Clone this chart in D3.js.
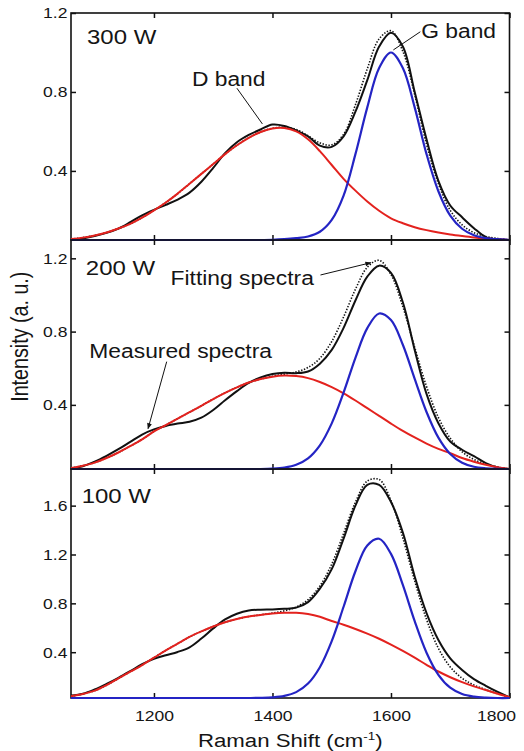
<!DOCTYPE html>
<html><head><meta charset="utf-8">
<script src="https://cdn.jsdelivr.net/npm/d3@7"></script>
<style>
body{margin:0;background:#fff}
svg{display:block}
text{font-family:"Liberation Sans",Arial,sans-serif;fill:#151515}
</style>
</head><body>
<svg id="chart" width="524" height="751"></svg>
<script>
// ---------- data ----------
const ramanShift = [1060,1080,1100,1120,1140,1160,1180,1200,1220,1240,1260,1280,1300,1320,1340,1360,1380,1400,1420,1440,1460,1480,1500,1520,1540,1560,1580,1600,1620,1640,1660,1680,1700,1720,1740,1760,1780,1800];

const panelLabels = ["300 W","200 W","100 W"];
const xTicks = [1200,1400,1600,1800];
const yTicks300 = [0.4,0.8,1.2];
const yTicks200 = [0.4,0.8,1.2];
const yTicks100 = [0.4,0.8,1.2,1.6];

// 300 W
const measured300 = [0.05,0.058,0.07,0.086,0.108,0.14,0.175,0.203,0.228,0.255,0.29,0.345,0.415,0.49,0.545,0.582,0.61,0.635,0.628,0.605,0.575,0.528,0.522,0.575,0.70,0.86,1.03,1.10,1.03,0.80,0.56,0.35,0.225,0.165,0.11,0.065,0.052,0.05];
const fit300 = [0.055,0.062,0.073,0.088,0.108,0.132,0.163,0.2,0.24,0.285,0.335,0.385,0.435,0.485,0.53,0.568,0.597,0.616,0.621,0.61,0.578,0.542,0.532,0.585,0.735,0.917,1.069,1.11,1.006,0.787,0.535,0.335,0.20,0.127,0.087,0.068,0.058,0.05];
const dBand300 = [0.055,0.062,0.073,0.088,0.108,0.132,0.163,0.2,0.24,0.285,0.335,0.385,0.435,0.485,0.53,0.568,0.597,0.615,0.617,0.60,0.56,0.50,0.43,0.36,0.30,0.245,0.198,0.16,0.135,0.115,0.10,0.088,0.078,0.07,0.063,0.058,0.054,0.05];
const gBand300 = [0.05,0.05,0.05,0.05,0.05,0.05,0.05,0.05,0.05,0.05,0.05,0.05,0.05,0.05,0.05,0.05,0.05,0.051,0.054,0.0595,0.068,0.092,0.152,0.275,0.485,0.722,0.921,1.0,0.921,0.722,0.485,0.297,0.1735,0.107,0.074,0.0595,0.054,0.05];

// 200 W
const measured200 = [0.052,0.065,0.09,0.122,0.158,0.198,0.238,0.266,0.285,0.298,0.308,0.33,0.372,0.425,0.475,0.52,0.55,0.568,0.575,0.573,0.582,0.625,0.70,0.82,0.97,1.10,1.16,1.12,0.96,0.70,0.46,0.30,0.20,0.155,0.12,0.082,0.058,0.05];
const fit200 = [0.055,0.068,0.085,0.11,0.14,0.175,0.212,0.255,0.29,0.325,0.36,0.395,0.432,0.466,0.496,0.522,0.541,0.556,0.568,0.58,0.604,0.654,0.746,0.88,1.031,1.151,1.189,1.111,0.936,0.714,0.50,0.331,0.218,0.144,0.102,0.077,0.061,0.05];
const dBand200 = [0.055,0.068,0.085,0.11,0.14,0.175,0.212,0.255,0.29,0.325,0.36,0.395,0.432,0.466,0.496,0.522,0.541,0.554,0.56,0.557,0.546,0.525,0.497,0.463,0.424,0.382,0.34,0.298,0.258,0.222,0.189,0.16,0.136,0.11,0.09,0.073,0.06,0.05];
const gBand200 = [0.05,0.05,0.05,0.05,0.05,0.05,0.05,0.05,0.05,0.05,0.05,0.05,0.05,0.05,0.05,0.05,0.05,0.052,0.058,0.073,0.108,0.179,0.299,0.467,0.657,0.819,0.899,0.863,0.728,0.542,0.361,0.221,0.132,0.084,0.062,0.054,0.051,0.05];

// 100 W
const measured100 = [0.045,0.06,0.095,0.14,0.19,0.245,0.302,0.345,0.375,0.402,0.44,0.512,0.595,0.668,0.715,0.742,0.748,0.75,0.755,0.765,0.81,0.92,1.08,1.33,1.60,1.77,1.77,1.63,1.38,1.02,0.72,0.50,0.35,0.255,0.18,0.125,0.075,0.03];
const fit100 = [0.04,0.058,0.085,0.13,0.185,0.24,0.295,0.355,0.415,0.47,0.525,0.57,0.61,0.645,0.672,0.692,0.706,0.721,0.739,0.77,0.83,0.942,1.121,1.372,1.628,1.801,1.814,1.642,1.336,0.984,0.668,0.432,0.279,0.187,0.131,0.093,0.06,0.032];
const dBand100 = [0.04,0.058,0.085,0.13,0.185,0.24,0.295,0.355,0.415,0.47,0.525,0.57,0.61,0.645,0.672,0.692,0.705,0.716,0.722,0.722,0.712,0.69,0.655,0.625,0.59,0.552,0.51,0.462,0.41,0.355,0.297,0.242,0.195,0.155,0.12,0.09,0.06,0.032];
const gBand100 = [0.025,0.025,0.025,0.025,0.025,0.025,0.025,0.025,0.025,0.025,0.025,0.025,0.025,0.025,0.025,0.025,0.026,0.030,0.042,0.073,0.143,0.277,0.491,0.772,1.063,1.274,1.329,1.205,0.951,0.654,0.396,0.215,0.109,0.057,0.036,0.028,0.025,0.025];

// ---------- layout ----------
const svg = d3.select("#chart");
const SX = 1.17; // horizontal stretch of the reference's lettering
const RED = "#e3221e", BLUE = "#2424c4", BLACK = "#111";

const x = d3.scaleLinear().domain([1060,1800]).range([71,509.5]);

const panels = [
  {label:panelLabels[0], top:13,  bottom:240, domain:[0.05,1.2],  ticks:yTicks300, m:measured300, f:fit300, d:dBand300, g:gBand300},
  {label:panelLabels[1], top:240, bottom:469, domain:[0.05,1.3],  ticks:yTicks200, m:measured200, f:fit200, d:dBand200, g:gBand200},
  {label:panelLabels[2], top:469, bottom:698, domain:[0.025,1.9], ticks:yTicks100, m:measured100, f:fit100, d:dBand100, g:gBand100}
];

function txt(g, str, px, py, size, anchor){
  return g.append("text")
    .attr("transform",`translate(${px},${py}) scale(${SX},1)`)
    .attr("font-size",size)
    .attr("text-anchor",anchor||"start")
    .text(str);
}

svg.append("defs").append("marker")
  .attr("id","arrow").attr("viewBox","0 0 10 10").attr("refX",9).attr("refY",5)
  .attr("markerWidth",7).attr("markerHeight",6).attr("markerUnits","userSpaceOnUse")
  .attr("orient","auto")
  .append("path").attr("d","M0,1 L10,5 L0,9 Z").attr("fill",BLACK);

panels.forEach((p,i)=>{
  const y = d3.scaleLinear().domain(p.domain).range([p.bottom,p.top]);
  p.y = y;
  const g = svg.append("g");

  // ticks (inward, on all four sides)
  const left = g.append("g").attr("transform",`translate(${x.range()[0]},0)`)
    .call(d3.axisLeft(y).tickValues(p.ticks).tickSizeInner(-5).tickSizeOuter(0).tickPadding(3).tickFormat(d3.format(".1f")));
  const right = g.append("g").attr("transform",`translate(${x.range()[1]},0)`)
    .call(d3.axisRight(y).tickValues(p.ticks).tickSizeInner(-5).tickSizeOuter(0).tickFormat(""));
  const top = g.append("g").attr("transform",`translate(0,${p.top})`)
    .call(d3.axisTop(x).tickValues(xTicks).tickSizeInner(-5).tickSizeOuter(0).tickFormat(""));
  const bot = g.append("g").attr("transform",`translate(0,${p.bottom})`)
    .call(d3.axisBottom(x).tickValues(xTicks).tickSizeInner(-5).tickSizeOuter(0).tickPadding(12)
      .tickFormat(i===2 ? d3.format("d") : ""));
  [left,right,top,bot].forEach(a=>{
    a.select(".domain").remove();
    a.selectAll(".tick line").attr("stroke",BLACK).attr("stroke-width",1.5);
    a.selectAll("text").attr("font-size",15).attr("fill","#151515")
      .attr("font-family",'"Liberation Sans",Arial,sans-serif');
  });
  left.selectAll("text").attr("transform",`scale(${SX},1)`);
  bot.selectAll("text").attr("transform",`scale(${SX},1)`);
  // last x label sits flush with the right edge, as in the reference
  bot.selectAll(".tick").filter(d=>d===xTicks[xTicks.length-1]).select("text")
    .attr("text-anchor","end").attr("x",6/SX);

  // frame
  g.append("rect").attr("x",x.range()[0]).attr("y",p.top)
    .attr("width",x.range()[1]-x.range()[0]).attr("height",p.bottom-p.top)
    .attr("fill","none").attr("stroke",BLACK).attr("stroke-width",1.6);

  const line = d3.line().x((v,k)=>x(ramanShift[k])).y(v=>y(v)).curve(d3.curveCatmullRom.alpha(0.5));

  g.append("path").attr("d",line(p.m)).attr("fill","none").attr("stroke",BLACK).attr("stroke-width",2);
  g.append("path").attr("d",line(p.f)).attr("fill","none").attr("stroke",BLACK).attr("stroke-width",1.6)
    .attr("stroke-dasharray","1.4,1.6");
  g.append("path").attr("d",line(p.d)).attr("fill","none").attr("stroke",RED).attr("stroke-width",2);
  g.append("path").attr("d",line(p.g)).attr("fill","none").attr("stroke",BLUE).attr("stroke-width",2.2);
});

// ---------- annotations ----------
const P1 = panels[0], P2 = panels[1], P3 = panels[2];
const ann = svg.append("g");
txt(ann, P1.label, x(1087), P1.y(1.043), 20.5);
txt(ann, P2.label, x(1085), P2.y(1.109), 20.5);
txt(ann, P3.label, x(1078), P3.y(1.624), 20.5);

txt(ann, "D band", x(1264), P1.y(0.83), 19.5);
ann.append("line").attr("x1",x(1340)).attr("y1",P1.y(0.819)).attr("x2",x(1383)).attr("y2",P1.y(0.638))
  .attr("stroke",BLACK).attr("stroke-width",1);
txt(ann, "G band", x(1651), P1.y(1.073), 19.5);
ann.append("line").attr("x1",x(1649.5)).attr("y1",P1.y(1.105)).attr("x2",x(1604)).attr("y2",P1.y(1.013))
  .attr("stroke",BLACK).attr("stroke-width",1);

txt(ann, "Fitting spectra", x(1228), P2.y(1.054), 19.5);
ann.append("line").attr("x1",x(1481)).attr("y1",P2.y(1.109)).attr("x2",x(1566)).attr("y2",P2.y(1.176))
  .attr("stroke",BLACK).attr("stroke-width",1).attr("marker-end","url(#arrow)");
txt(ann, "Measured spectra", x(1091), P2.y(0.654), 19.5);
ann.append("line").attr("x1",x(1221.5)).attr("y1",P2.y(0.636)).attr("x2",x(1190)).attr("y2",P2.y(0.27))
  .attr("stroke",BLACK).attr("stroke-width",1).attr("marker-end","url(#arrow)");

// axis titles
const xt = svg.append("text")
  .attr("transform",`translate(${(x.range()[0]+x.range()[1])/2},747) scale(${SX},1)`)
  .attr("font-size",19).attr("text-anchor","middle");
xt.append("tspan").text("Raman Shift (cm");
xt.append("tspan").attr("font-size",11.5).attr("dy",-7).text("-1");
xt.append("tspan").attr("dy",7).text(")");

svg.append("text")
  .attr("transform",`translate(27.5,336.7) scale(${SX},1) rotate(-90)`)
  .attr("font-size",19.7).attr("text-anchor","middle")
  .text("Intensity (a. u.)");
</script>
</body></html>
